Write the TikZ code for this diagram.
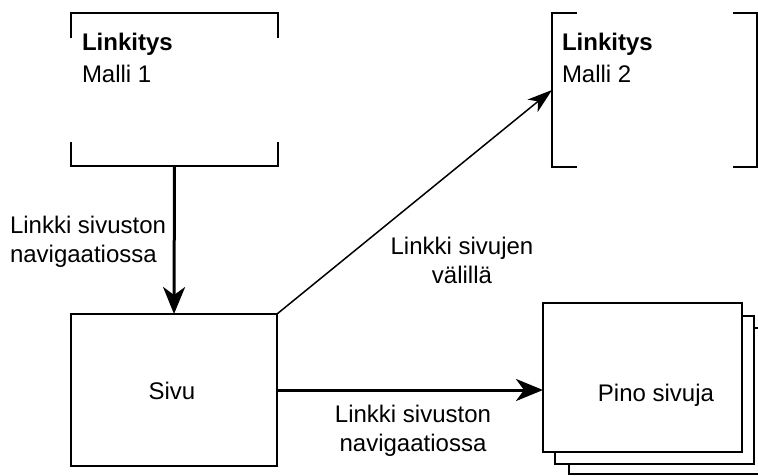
\documentclass[tikz,border=0pt]{standalone}
\usepackage{fontspec}
\setmainfont{Liberation Sans}
\usetikzlibrary{arrows.meta,calc}
\begin{document}
\begin{tikzpicture}[x=1pt,y=-1pt,
  every node/.style={font=\fontsize{24}{29}\selectfont, inner sep=0pt, outer sep=0pt},
  frame/.style={draw=black, line width=2pt, fill=white},
  bracket/.style={draw=black, line width=2pt},
  thicklink/.style={line width=3pt, -{Stealth[length=27pt,width=22pt,inset=8pt]}},
  thinlink/.style={line width=1.5pt, -{Stealth[length=25pt,width=16pt,inset=7pt]}},
  lbl/.style={align=center},
]
\useasboundingbox (0,0) rectangle (758,475);
\clip (0,0) rectangle (758,475);

% model placeholders (bracketed)
\node (m1) [minimum width=207pt, minimum height=153pt] at (174.5,89.5) {};
\node (m2) [minimum width=205pt, minimum height=154pt] at (654.5,90) {};

\draw[bracket] (71,38) -- (71,13) -- (278,13) -- (278,38);
\draw[bracket] (71,142) -- (71,166) -- (278,166) -- (278,142);
\draw[bracket] (577,13) -- (552,13) -- (552,167) -- (577,167);
\draw[bracket] (733,13) -- (757,13) -- (757,167) -- (733,167);

\node (t1) [anchor=base west, font=\fontsize{24}{29}\selectfont\bfseries] at (82,50) {Linkitys};
\node (s1) [anchor=base west] at (82,82) {Malli 1};
\node (t2) [anchor=base west, font=\fontsize{24}{29}\selectfont\bfseries] at (562,50) {Linkitys};
\node (s2) [anchor=base west] at (562,82) {Malli 2};

% single page
\node (sivu) [frame, minimum width=206pt, minimum height=152pt] at (174,390) {};
\node (sivut) [anchor=base] at (172,399) {Sivu};

% stack of pages
\node (p3) [frame, minimum width=200pt, minimum height=146pt] at (669,401) {};
\node (p2) [frame, minimum width=199pt, minimum height=148pt] at (654.5,390) {};
\node (pino) [frame, minimum width=199pt, minimum height=149pt] at (642.5,377.5) {};
\node (pinot) [anchor=base] at (656,401) {Pino sivuja};

% connectors
\draw[thicklink] (m1.south) -- (sivu.north);
\draw[thinlink] (sivu.north east) -- (m2.west);
\draw[thicklink] (sivu.east) -- (sivu.east -| pino.west);

% connector labels (anchored on the baseline of the last line)
\node (l1) [anchor=base west, align=left] at (10,262) {Linkki sivuston\\navigaatiossa};
\node (l2) [anchor=base, lbl] at (462,283) {Linkki sivujen\\välillä};
\node (l3) [anchor=base, lbl] at (413,451) {Linkki sivuston\\navigaatiossa};
\end{tikzpicture}
\end{document}
